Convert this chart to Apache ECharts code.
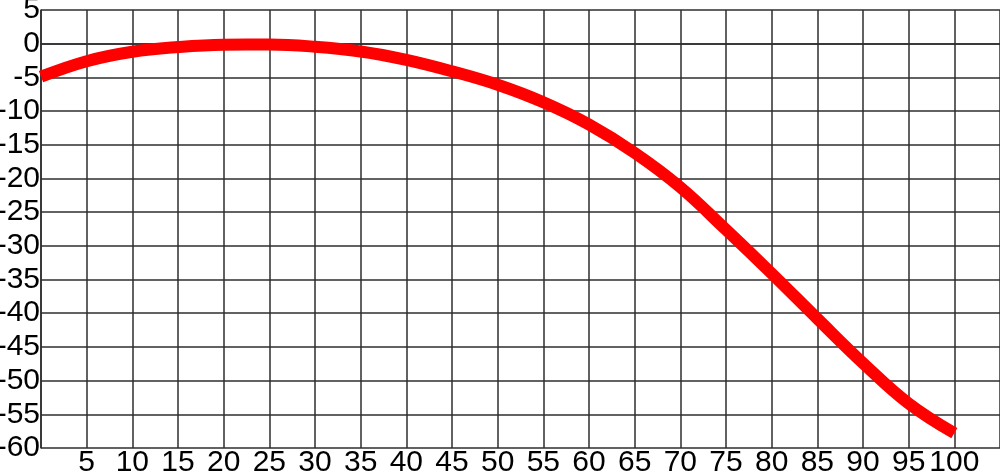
<!DOCTYPE html>
<html>
<head>
<meta charset="utf-8">
<style>
  html, body { margin: 0; padding: 0; background: #ffffff; }
  #chart { width: 1000px; height: 474px; }
</style>
<script src="https://cdn.jsdelivr.net/npm/echarts@6/dist/echarts.min.js"></script>
</head>
<body>
<div id="chart"></div>
<script>
// values, every 5 units
const xValues = [0, 5, 10, 15, 20, 25, 30, 35, 40, 45, 50, 55, 60, 65, 70, 75, 80, 85, 90, 95, 100]
const yValues = [-4.9, -2.6, -1.2, -0.5, -0.15, -0.12, -0.45, -1.15, -2.4, -4.1, -6.1, -8.7, -12.0, -16.2, -21.3, -27.6, -34.1, -40.8, -47.4, -53.4, -57.8]
const xTickLabels = [5, 10, 15, 20, 25, 30, 35, 40, 45, 50, 55, 60, 65, 70, 75, 80, 85, 90, 95, 100]

const gridColor = '#2e2e2e'
const fontStyle = {
  fontFamily: 'Liberation Sans, Arial, sans-serif',
  fontSize: 30,
  color: '#000000',
}

const chart = echarts.init(document.getElementById('chart'))

chart.setOption({
  backgroundColor: '#ffffff',
  animation: false,
  grid: {
    left: 41,
    right: 0,
    top: 10,
    bottom: 26,
    containLabel: false,
    outerBoundsMode: 'none',
  },
  xAxis: {
    type: 'value',
    min: 0,
    max: 105,
    interval: 5,
    axisLine: { show: true, lineStyle: { color: gridColor, width: 1.5 } },
    axisTick: { show: false },
    axisLabel: {
      ...fontStyle,
      margin: 0,
      showMinLabel: false,
      showMaxLabel: false,
      formatter: (v) => (xTickLabels.includes(v) ? String(v) : ''),
    },
    splitLine: { show: true, lineStyle: { color: gridColor, width: 1.5 } },
  },
  yAxis: {
    type: 'value',
    min: -60,
    max: 5,
    interval: 5,
    axisLine: { show: true, lineStyle: { color: gridColor, width: 1.5 } },
    axisTick: { show: false },
    axisLabel: {
      ...fontStyle,
      margin: 1,
    },
    splitLine: { show: true, lineStyle: { color: gridColor, width: 1.5 } },
  },
  series: [
    {
      type: 'line',
      data: xValues.map((x, i) => [x, yValues[i]]),
      smooth: 0.4,
      showSymbol: false,
      lineStyle: { width: 12, color: '#ff0000', cap: 'butt' },
    },
  ],
})
</script>
</body>
</html>
